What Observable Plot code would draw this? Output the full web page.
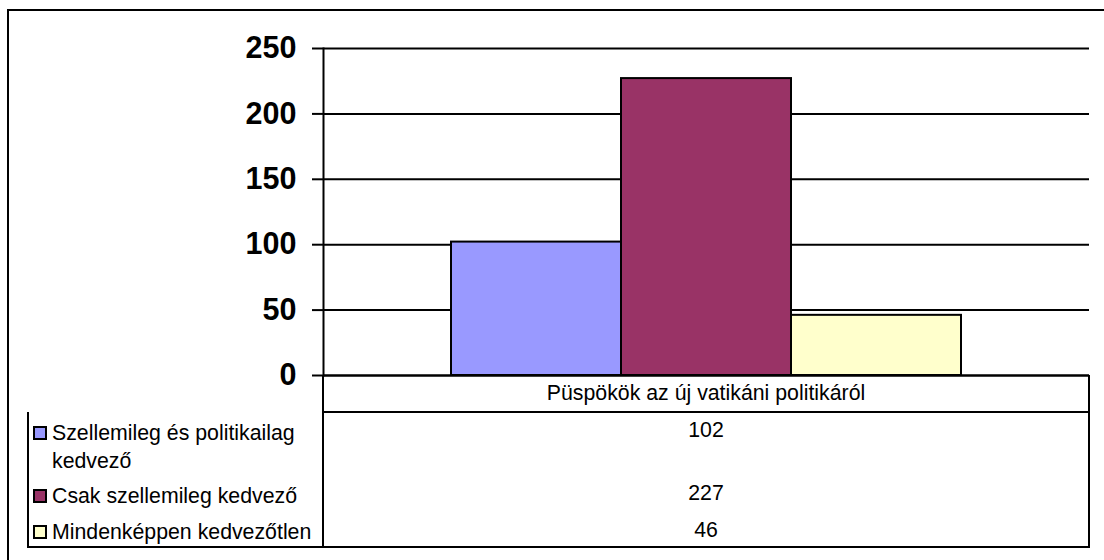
<!DOCTYPE html>
<html>
<head>
<meta charset="utf-8">
<script src="https://cdn.jsdelivr.net/npm/d3@7"></script>
<script src="https://cdn.jsdelivr.net/npm/@observablehq/plot@0.6"></script>
<style>
  html, body { margin: 0; padding: 0; background: #fff; }
  #wrap { position: relative; width: 1104px; height: 560px; overflow: hidden; font-family: "Liberation Sans", Arial, sans-serif; color: #000; }
  #frame { position: absolute; left: 7px; top: 9px; width: 1200px; height: 700px; border: 2px solid #000; box-sizing: border-box; }
  #chart { position: absolute; left: 0; top: 0; }
  .cell { position: absolute; box-sizing: border-box; }
  .txt { position: absolute; font-size: 21.3px; line-height: 28px; white-space: nowrap; }
  .key { position: absolute; width: 14px; height: 14px; box-sizing: border-box; border: 2px solid #000; }
</style>
</head>
<body>
<div id="wrap">
  <div id="frame"></div>
  <div id="chart"></div>
</div>
<script>
const categories = ["Püspökök az új vatikáni politikáról"];
const series = ["Szellemileg és politikailag kedvező", "Csak szellemileg kedvező", "Mindenképpen kedvezőtlen"];
const values = [102, 227, 46];
const colors = ["#9999FF", "#993366", "#FFFFCC"];
const yTicks = [0, 50, 100, 150, 200, 250];

const data = series.map((s, i) => ({series: s, category: categories[0], value: values[i]}));

const W = 1104, H = 560;
const mL = 323, mR = 15, mT = 48, mB = 185;

const chart = Plot.plot({
  width: W,
  height: H,
  marginLeft: mL,
  marginRight: mR,
  marginTop: mT,
  marginBottom: mB,
  style: {fontFamily: "Liberation Sans, Arial, sans-serif", background: "transparent", overflow: "visible"},
  x: {domain: series, paddingInner: 0, paddingOuter: 0.75, axis: null},
  y: {domain: [0, 250], axis: null},
  color: {domain: series, range: colors},
  marks: [
    Plot.gridY(yTicks, {stroke: "#000", strokeOpacity: 1, strokeWidth: 2}),
    Plot.axisY(yTicks, {tickSize: 11, tickPadding: 16, fontSize: 30.5, fontWeight: "bold", stroke: "#000", strokeWidth: 2, tickFormat: d => String(d), label: null}),
    Plot.barY(data, {x: "series", y: "value", fill: "series", stroke: "#000", strokeWidth: 2, insetLeft: 0, insetRight: 0}),
    Plot.frame({anchor: "left", stroke: "#000", strokeWidth: 2}),
    Plot.ruleY([0], {stroke: "#000", strokeWidth: 2})
  ]
});
document.getElementById("chart").appendChild(chart);

// Data table below the plot
const wrap = document.getElementById("wrap");
function el(cls, style, text) {
  const d = document.createElement("div");
  d.className = cls;
  Object.assign(d.style, style);
  if (text != null) d.textContent = text;
  wrap.appendChild(d);
  return d;
}
const plotLeft = mL, plotRight = W - mR, axisY0 = H - mB;
const catRowBottom = 412, tableLeft = 27, tableBottom = 547;

// Category row (continuation of y-axis on the left)
el("cell", {left: (plotLeft - 1) + "px", top: axisY0 + "px", width: (plotRight - plotLeft + 2) + "px", height: (catRowBottom - axisY0 + 1) + "px",
  borderLeft: "2px solid #000", borderRight: "2px solid #000", borderBottom: "2px solid #000"});
el("txt", {left: plotLeft + "px", width: (plotRight - plotLeft) + "px", textAlign: "center", top: (393 - 14) + "px"}, categories[0]);

// Legend / value block
el("cell", {left: tableLeft + "px", top: catRowBottom + "px", width: (plotRight - tableLeft + 1) + "px", height: (tableBottom - catRowBottom + 1) + "px",
  border: "2px solid #000", borderTop: "none"});
el("cell", {left: (plotLeft - 1) + "px", top: catRowBottom + "px", width: "2px", height: (tableBottom - catRowBottom) + "px", background: "#000"});

const labelTops = [419, 482, 518];
const valueTops = [416, 479, 516];
series.forEach((s, i) => {
  el("key", {left: "33px", top: (labelTops[i] + 7) + "px", background: colors[i]});
  el("txt", {left: "52px", top: labelTops[i] + "px", width: "266px", whiteSpace: "normal"}, s);
  el("txt", {left: plotLeft + "px", width: (plotRight - plotLeft) + "px", textAlign: "center", top: valueTops[i] + "px"}, String(values[i]));
});
</script>
</body>
</html>
